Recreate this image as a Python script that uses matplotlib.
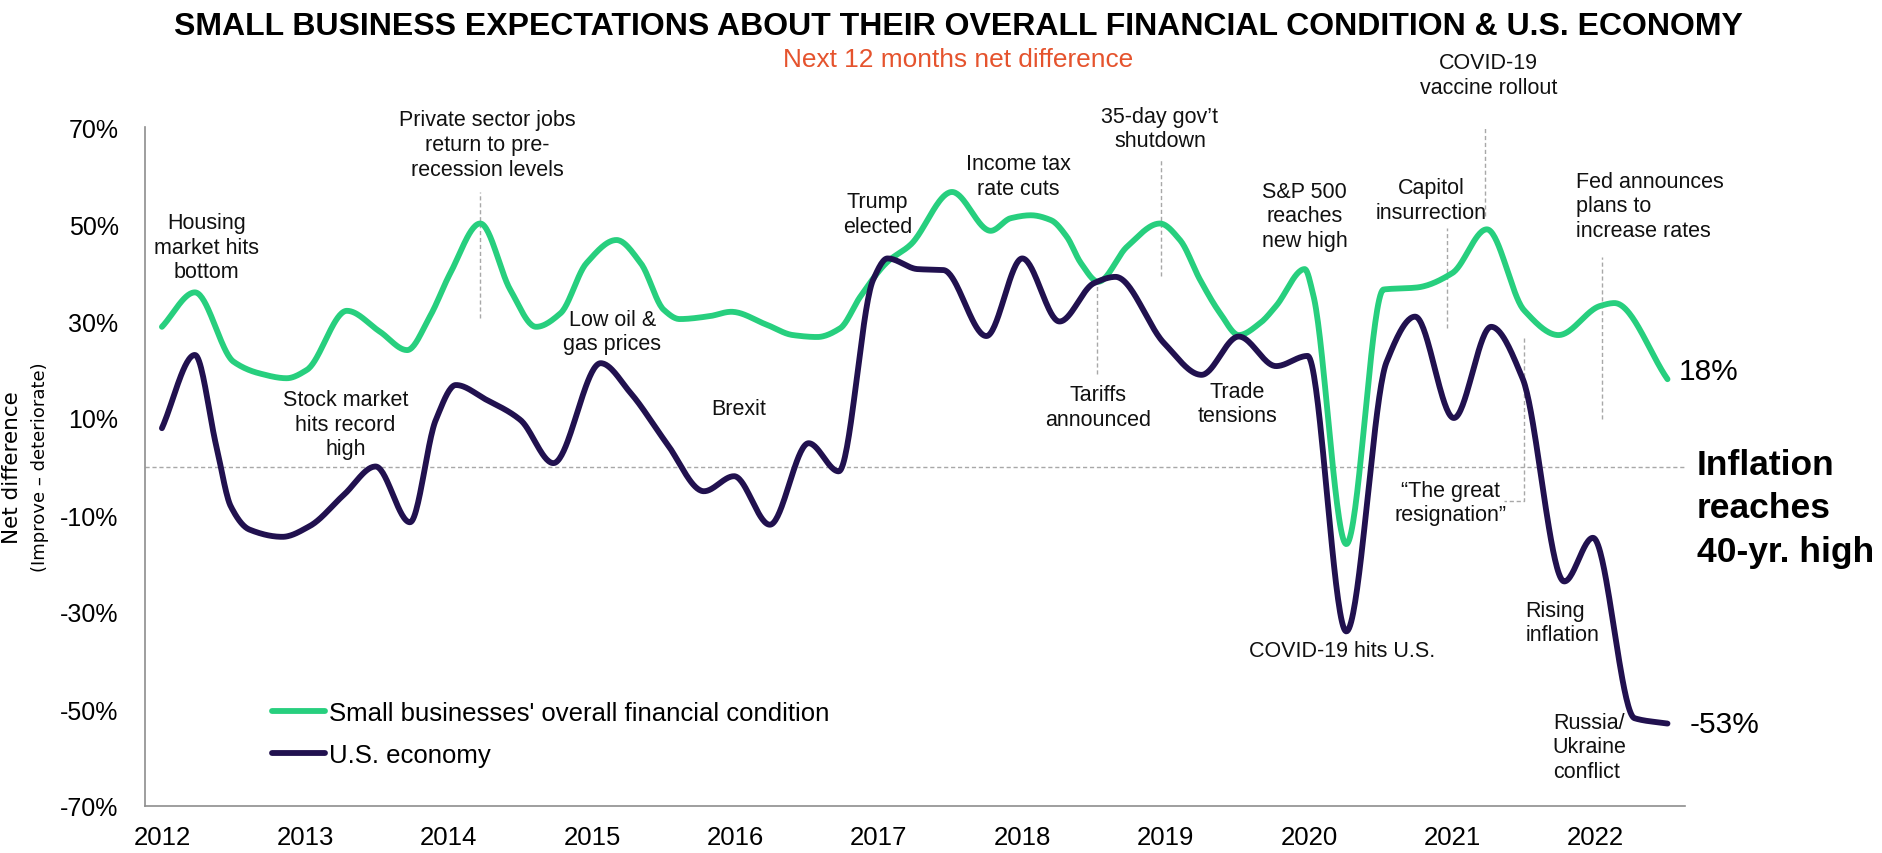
import numpy as np
import matplotlib
matplotlib.use("Agg")
import matplotlib.pyplot as plt

plt.rcParams["font.family"] = ["Liberation Sans", "DejaVu Sans"]

GREEN = "#27CF7E"
NAVY = "#21114F"
GRID_GRAY = "#A8A8A8"

# survey readings (decimal year, net % improve minus deteriorate)
biz_years = [2012.00, 2012.23, 2012.50, 2012.68, 2012.87, 2013.01, 2013.29, 2013.52,
             2013.71, 2013.87, 2014.01, 2014.22, 2014.43, 2014.61, 2014.78, 2014.96,
             2015.17, 2015.34, 2015.50, 2015.61, 2015.82, 2015.97, 2016.22, 2016.40,
             2016.57, 2016.73, 2016.87, 2017.06, 2017.22, 2017.51, 2017.78, 2017.92,
             2018.06, 2018.20, 2018.31, 2018.41, 2018.53, 2018.73, 2018.96, 2019.10,
             2019.24, 2019.38, 2019.51, 2019.66, 2019.77, 2019.97, 2020.03, 2020.26,
             2020.52, 2020.75, 2021.00, 2021.24, 2021.50, 2021.74, 2022.03, 2022.13,
             2022.50]
biz_values = [28.8, 35.9, 21.6, 19.2, 18.2, 19.9, 32.1, 27.8,
              24.0, 31.0, 39.8, 50.1, 36.4, 28.8, 31.6, 41.9,
              46.7, 41.9, 32.3, 30.4, 31.0, 31.9, 29.2, 27.1,
              26.7, 28.5, 35.0, 42.2, 45.7, 56.6, 48.6, 51.2,
              51.8, 50.8, 47.4, 41.9, 38.1, 45.3, 50.1, 46.7,
              38.5, 31.6, 27.1, 29.6, 33.1, 40.7, 35.3, -16.0,
              36.5, 36.9, 39.9, 48.9, 32.2, 27.1, 33.1, 33.7,
              18.0]

econ_years = [2012.00, 2012.23, 2012.38, 2012.48, 2012.61, 2012.84, 2013.03, 2013.27,
              2013.49, 2013.73, 2013.91, 2014.05, 2014.26, 2014.50, 2014.73, 2015.06,
              2015.27, 2015.52, 2015.78, 2015.99, 2016.24, 2016.51, 2016.72, 2016.96,
              2017.06, 2017.27, 2017.45, 2017.75, 2018.00, 2018.26, 2018.50, 2018.65,
              2018.99, 2019.25, 2019.51, 2019.77, 2019.99, 2020.26, 2020.54, 2020.74,
              2021.01, 2021.27, 2021.49, 2021.78, 2021.98, 2022.27, 2022.50]
econ_values = [7.9, 23.0, 4.1, -8.2, -13.0, -14.5, -12.3, -5.8,
               0.0, -11.5, 9.6, 16.8, 13.8, 9.6, 0.7, 21.3,
               15.1, 4.8, -5.1, -2.0, -12.0, 4.8, -1.0, 38.5,
               42.9, 40.7, 40.5, 26.9, 42.9, 29.9, 37.8, 39.1,
               25.4, 18.9, 26.8, 20.7, 22.8, -34.0, 21.5, 30.9,
               10.0, 28.8, 18.1, -23.7, -14.7, -51.9, -53.0]

series_names = ["Small businesses' overall financial condition", "U.S. economy"]
year_labels = list(range(2012, 2023))
pct_ticks = list(range(-70, 71, 20))

# event notes: x, baseline of the first line, text, alignment
notes = [
    (2012.31, 49.0, "Housing\nmarket hits\nbottom", "center"),
    (2013.28, 12.5, "Stock market\nhits record\nhigh", "center"),
    (2014.27, 70.2, "Private sector jobs\nreturn to pre-\nrecession levels", "center"),
    (2015.14, 29.2, "Low oil &\ngas prices", "center"),
    (2016.02, 10.8, "Brexit", "center"),
    (2016.99, 53.4, "Trump\nelected", "center"),
    (2017.97, 61.2, "Income tax\nrate cuts", "center"),
    (2018.96, 71.0, "35-day gov\u2019t\nshutdown", "center"),
    (2018.53, 13.6, "Tariffs\nannounced", "center"),
    (2019.50, 14.3, "Trade\ntensions", "center"),
    (2019.97, 55.5, "S&P 500\nreaches\nnew high", "center"),
    (2020.85, 56.3, "Capitol\ninsurrection", "center"),
    (2021.25, 82.1, "COVID-19\nvaccine rollout", "center"),
    (2020.99, -6.1, "\u201cThe great\nresignation\u201d", "center"),
    (2020.23, -39.0, "COVID-19 hits U.S.", "center"),
    (2021.51, -30.8, "Rising\ninflation", "left"),
    (2021.86, 57.6, "Fed announces\nplans to\nincrease rates", "left"),
    (2021.70, -54.0, "Russia/\nUkraine\nconflict", "left"),
]
NOTE_LINE_STEP = 5.0  # baseline-to-baseline distance of the notes, in % units

# dashed leader lines: x, y from, y to
leaders = [
    (2014.22, 30.6, 56.5),
    (2018.97, 39.3, 63.4),
    (2018.52, 19.1, 37.6),
    (2020.96, 28.6, 49.1),
    (2021.23, 51.7, 76.1),
    (2022.04, 9.8, 43.1),
]
resignation_leader = ([2021.50, 2021.50, 2021.36], [26.4, -7.1, -7.1])


def smooth(x, y, n=1500):
    """Monotone cubic (PCHIP) curve through the points."""
    x = np.asarray(x, float)
    y = np.asarray(y, float)
    h = np.diff(x)
    d = np.diff(y) / h
    m = np.zeros_like(y)
    m[0], m[-1] = d[0], d[-1]
    for k in range(1, len(x) - 1):
        if d[k - 1] * d[k] > 0:
            w1 = 2 * h[k] + h[k - 1]
            w2 = h[k] + 2 * h[k - 1]
            m[k] = (w1 + w2) / (w1 / d[k - 1] + w2 / d[k])
    xs = np.linspace(x[0], x[-1], n)
    idx = np.clip(np.searchsorted(x, xs) - 1, 0, len(x) - 2)
    t = (xs - x[idx]) / h[idx]
    h00 = 2 * t**3 - 3 * t**2 + 1
    h10 = t**3 - 2 * t**2 + t
    h01 = -2 * t**3 + 3 * t**2
    h11 = t**3 - t**2
    ys = h00 * y[idx] + h10 * h[idx] * m[idx] + h01 * y[idx + 1] + h11 * h[idx] * m[idx + 1]
    return xs, ys


fig = plt.figure(figsize=(18.83, 8.54), dpi=100)
ax = fig.add_axes([145 / 1883, 1 - 807 / 854, 1540 / 1883, 679 / 854])

ax.axhline(0, color=GRID_GRAY, lw=1.0, ls=(0, (3, 2)), zorder=1)
for x, y0, y1 in leaders:
    ax.plot([x, x], [y0, y1], color=GRID_GRAY, lw=1.0, ls=(0, (3, 2)), zorder=1)
ax.plot(*resignation_leader, color=GRID_GRAY, lw=1.0, ls=(0, (3, 2)), zorder=1)

bx, by = smooth(biz_years, biz_values)
ex, ey = smooth(econ_years, econ_values)
ax.plot(bx, by, color=GREEN, lw=4.2, solid_capstyle="round", label=series_names[0], zorder=3)
ax.plot(ex, ey, color=NAVY, lw=4.2, solid_capstyle="round", label=series_names[1], zorder=3)

# multi-line text with va="baseline" sits on its last line
for x, y, txt, ha in notes:
    last = y - (txt.count("\n")) * NOTE_LINE_STEP
    ax.text(x, last, txt, ha=ha, va="baseline", fontsize=15.5, linespacing=1.22,
            color="#111111", clip_on=False)

# end-of-line values
ax.annotate(f"{biz_values[-1]:.0f}%", (biz_years[-1], biz_values[-1]),
            xytext=(8, 6), textcoords="offset points", va="center", ha="left",
            fontsize=21.5, annotation_clip=False)
ax.annotate(f"{econ_values[-1]:.0f}%", (econ_years[-1], econ_values[-1]),
            xytext=(16, 0), textcoords="offset points", va="center", ha="left",
            fontsize=21.5, annotation_clip=False)

ax.set_xlim(2011.882, 2022.622)
ax.set_ylim(-70, 70)
ax.set_xticks(year_labels)
ax.set_xticklabels([str(y) for y in year_labels])
ax.set_yticks(pct_ticks)
ax.set_yticklabels([f"{v}%" for v in pct_ticks])
ax.tick_params(axis="x", length=0, pad=14, labelsize=18.5)
ax.tick_params(axis="y", length=0, pad=19, labelsize=18)
for side in ("top", "right"):
    ax.spines[side].set_visible(False)
for side in ("left", "bottom"):
    ax.spines[side].set_color("#8E8E8E")
    ax.spines[side].set_linewidth(1.2)

ax.legend(loc="center left", bbox_to_anchor=(272 / 1883, 1 - 734.7 / 854),
          bbox_transform=fig.transFigure, frameon=False, fontsize=18.5,
          handlelength=2.06, handletextpad=0.17, labelspacing=0.7,
          borderpad=0, borderaxespad=0)

fig.text(0.509, 1 - 35 / 854, "SMALL BUSINESS EXPECTATIONS ABOUT THEIR OVERALL FINANCIAL CONDITION & U.S. ECONOMY",
         ha="center", va="baseline", fontsize=23, fontweight="bold")
fig.text(0.509, 1 - 66.7 / 854, "Next 12 months net difference",
         ha="center", va="baseline", fontsize=18.9, color="#E5532D")

fig.text(12 / 1883, 1 - 467.5 / 854, "Net difference", rotation=90, ha="center", va="center",
         fontsize=15.5, family="DejaVu Sans")
fig.text(40 / 1883, 1 - 467.5 / 854, "(Improve \u2013 deteriorate)", rotation=90, ha="center",
         va="center", fontsize=13, family="DejaVu Sans")

fig.text(1696.7 / 1883, 1 - 561.6 / 854, "Inflation\nreaches\n40-yr. high", ha="left", va="baseline",
         fontsize=25.5, fontweight="bold", linespacing=1.39)

fig.savefig("out.png", dpi=100)
